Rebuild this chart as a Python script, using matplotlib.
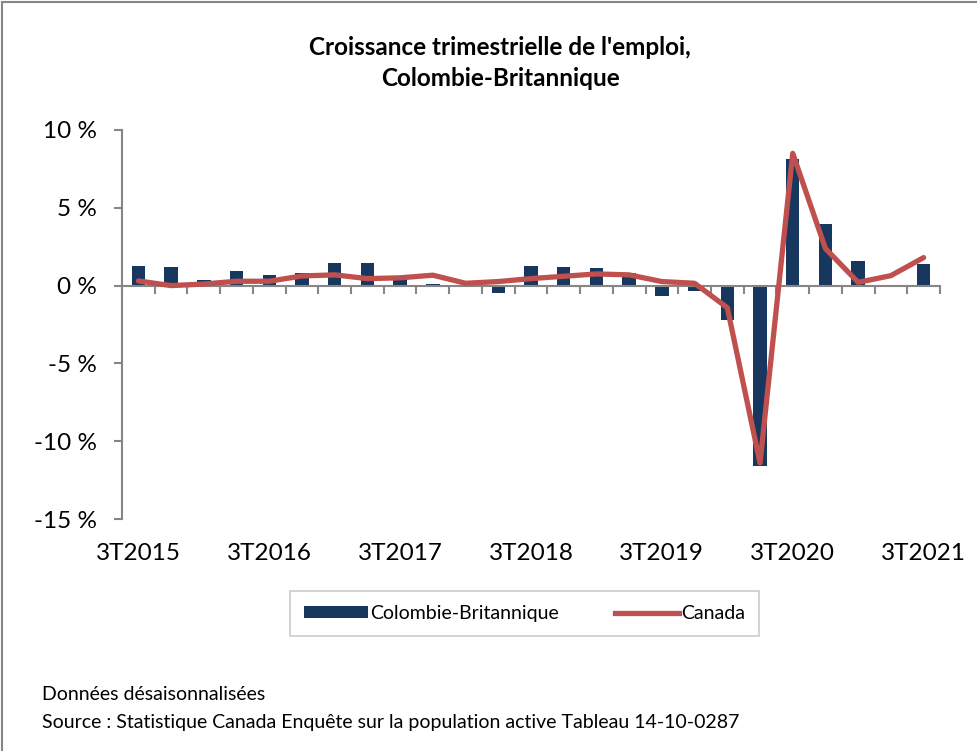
import numpy as np
import matplotlib.pyplot as plt
from matplotlib.patches import Rectangle
from matplotlib.lines import Line2D
from matplotlib.patches import Patch
import matplotlib.transforms as mtransforms

plt.rcParams['font.family'] = ['Lato', 'DejaVu Sans']

# données (croissance trimestrielle, %)
trimestres = ["3T2015", "4T2015", "1T2016", "2T2016", "3T2016", "4T2016", "1T2017", "2T2017",
              "3T2017", "4T2017", "1T2018", "2T2018", "3T2018", "4T2018", "1T2019", "2T2019",
              "3T2019", "4T2019", "1T2020", "2T2020", "3T2020", "4T2020", "1T2021", "2T2021",
              "3T2021"]
cb = [1.29, 1.20, 0.39, 0.97, 0.71, 0.84, 1.46, 1.44, 0.42, 0.10, 0.03, -0.45, 1.24,
      1.18, 1.14, 0.82, -0.67, -0.36, -2.23, -11.57, 8.11, 3.99, 1.61, 0.06, 1.42]
canada = [0.30, 0.00, 0.10, 0.28, 0.28, 0.62, 0.69, 0.45, 0.50, 0.67, 0.15, 0.26, 0.45,
          0.60, 0.75, 0.69, 0.26, 0.15, -1.42, -11.4, 8.5, 2.38, 0.21, 0.64, 1.80]
etiquettes = ["3T2015", "3T2016", "3T2017", "3T2018", "3T2019", "3T2020", "3T2021"]

bleu = "#17375E"
rouge = "#C0504D"
gris = "#868686"

fig = plt.figure(figsize=(9.77, 7.51), dpi=100)
ax = fig.add_axes([0.1249, 0.3089, 0.8372, 0.518])

x = np.arange(len(trimestres))
ax.bar(x, cb, width=0.41, color=bleu, zorder=2)
ax.plot(x, canada, color=rouge, linewidth=3.8, solid_capstyle="round", solid_joinstyle="round", zorder=3)

ax.set_xlim(-0.5, len(trimestres) - 0.5)
ax.set_ylim(-15, 10)
ax.set_yticks([10, 5, 0, -5, -10, -15])
ax.set_yticklabels(["10 %", "5 %", "0 %", "-5 %", "-10 %", "-15 %"], fontsize=17.5)

for s in ["top", "right"]:
    ax.spines[s].set_visible(False)
ax.spines["bottom"].set_position(("data", 0))
ax.spines["bottom"].set_color(gris)
ax.spines["left"].set_color(gris)
ax.spines["bottom"].set_linewidth(1.5)
ax.spines["left"].set_linewidth(1.5)
ax.tick_params(axis="y", color=gris, width=1.5, length=6, direction="out", pad=12)
ax.set_xticks(np.arange(len(trimestres) + 1) - 0.5)
ax.set_xticklabels([])
ax.tick_params(axis="x", color=gris, width=1.5, length=6, direction="out")

trans = mtransforms.blended_transform_factory(ax.transData, ax.transAxes)
for lab in etiquettes:
    ax.text(trimestres.index(lab), -0.062, lab, transform=trans, ha="center", va="top", fontsize=17.5)

fig.text(0.512, 0.952, "Croissance trimestrielle de l'emploi,\nColombie-Britannique",
         ha="center", va="top", fontsize=17.5, fontweight="bold", linespacing=1.42)

handles = [Patch(facecolor=bleu, label="Colombie-Britannique"),
           Line2D([0], [0], color=rouge, linewidth=3.8, label="Canada")]
leg = fig.legend(handles=handles, loc="center", bbox_to_anchor=(0.537, 0.183), ncol=2,
                 frameon=True, fancybox=False, fontsize=14, handlelength=3.3, handleheight=0.6,
                 handletextpad=0.1, columnspacing=2.9, borderpad=0.7)
leg.get_frame().set_edgecolor("#BFBFBF")
leg.get_frame().set_linewidth(1.2)

fig.text(0.043, 0.075, "Données désaisonnalisées", fontsize=14, va="center")
fig.text(0.043, 0.038, "Source : Statistique Canada Enquête sur la population active Tableau 14-10-0287",
         fontsize=14, va="center")

fig.patches.append(Rectangle((0.002, -0.01), 1.1, 1.007, transform=fig.transFigure,
                             fill=False, edgecolor=gris, linewidth=1.5))

fig.savefig("out.png", dpi=100)
